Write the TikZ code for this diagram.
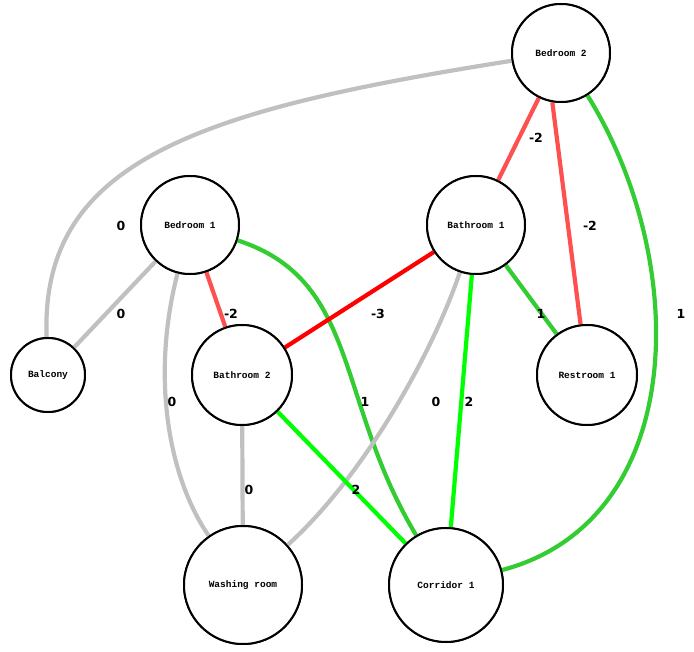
\documentclass[tikz,border=0pt]{standalone}
\usepackage{fontspec}
\newfontfamily\monob{Liberation Mono}
\newfontfamily\labf{DejaVu Sans}
\definecolor{gn1}{HTML}{33CC33}
\definecolor{rd1}{HTML}{FF5050}
\definecolor{gy1}{HTML}{C0C0C0}
\begin{document}
\begin{tikzpicture}[x=1pt,y=-1pt,
  room/.style={circle,draw=black,line width=2pt,fill=white,font=\monob\bfseries\fontsize{9.5}{11}\selectfont,inner sep=0pt},
  e/.style={line width=4.2pt},
  gr/.style={e,draw=gy1},
  rd/.style={e,draw=rd1},
  rr/.style={e,draw=red},
  gn/.style={e,draw=gn1},
  lm/.style={e,draw=green},
  lab/.style={font=\labf\bfseries\fontsize{12.5}{14}\selectfont}]
\useasboundingbox (0,0) rectangle (694,652);
\node[room,minimum size=98pt] (b2) at (561,53) {Bedroom 2};
\node[room,minimum size=98pt] (b1) at (190,225) {Bedroom 1};
\node[room,minimum size=98pt] (ba1) at (476,225) {Bathroom 1};
\node[room,minimum size=74pt] (bal) at (48,375) {Balcony};
\node[room,minimum size=100pt] (ba2) at (242,375) {Bathroom 2};
\node[room,minimum size=100pt] (r1) at (587,375) {Restroom 1};
\node[room,minimum size=118pt] (wr) at (243,585) {Washing room};
\node[room,minimum size=114pt] (c1) at (446,585) {Corridor 1};
% edges
\draw[gr] (b2) .. controls (200,110) and (40,160) .. (bal);
\draw[rd] (b2) -- (ba1);
\draw[rd] (b2.-100) -- (r1);
\draw[gn] (b2) .. controls (690,260) and (690,520) .. (c1);
\draw[gr] (b1) -- (bal);
\draw[rd] (b1) -- (ba2);
\draw[gr] (b1) .. controls (150,380) and (170,480) .. (wr);
\draw[gn] (b1) .. controls (360,280) and (335,400) .. (c1);
\draw[rr] (ba1) -- (ba2);
\draw[gn] (ba1) -- (r1);
\draw[gr] (ba1) .. controls (430,360) and (360,480) .. (wr);
\draw[lm] (ba1) -- (c1);
\draw[gr] (ba2) -- (wr);
\draw[lm] (ba2) -- (c1);
% nodes on top of edges
\foreach \n/\p/\s/\t in {b2/{561,53}/98/Bedroom 2,b1/{190,225}/98/Bedroom 1,ba1/{476,225}/98/Bathroom 1,bal/{48,375}/74/Balcony,ba2/{242,375}/100/Bathroom 2,r1/{587,375}/100/Restroom 1,wr/{243,585}/118/Washing room,c1/{446,585}/114/Corridor 1}
  \node[room,minimum size=\s pt] at (\p) {\t};
\node[lab] (l1) at (121,226) {0};
\node[lab] (l2) at (536,138) {-2};
\node[lab] (l3) at (590,226) {-2};
\node[lab] (l4) at (681,314) {1};
\node[lab] (l5) at (121,314) {0};
\node[lab] (l6) at (231,314) {-2};
\node[lab] (l7) at (172,402) {0};
\node[lab] (l8) at (365,402) {1};
\node[lab] (l9) at (378,314) {-3};
\node[lab] (l10) at (541,314) {1};
\node[lab] (l11) at (436,402) {0};
\node[lab] (l12) at (469,402) {2};
\node[lab] (l13) at (249,490) {0};
\node[lab] (l14) at (356,490) {2};
\end{tikzpicture}
\end{document}
